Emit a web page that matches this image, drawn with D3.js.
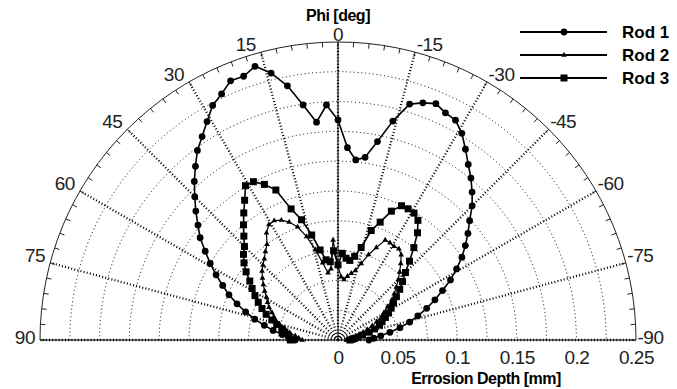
<!DOCTYPE html>
<html>
<head>
<meta charset="utf-8">
<script src="https://cdnjs.cloudflare.com/ajax/libs/d3/7.8.5/d3.min.js"></script>
<style>
  body { margin: 0; background: #fff; }
  svg { display: block; font-family: Arial, "Liberation Sans", sans-serif; }
</style>
</head>
<body>
<div id="chart"></div>
<script>
// measurement angles (deg), left = positive
const phi = [90, 87.1875, 84.375, 81.5625, 78.75, 75.9375, 73.125, 70.3125, 67.5, 64.6875,
  61.875, 59.0625, 56.25, 53.4375, 50.625, 47.8125, 45, 42.1875, 39.375, 36.5625,
  33.75, 30.9375, 28.125, 25.3125, 22.5, 19.6875, 16.875, 14.0625, 11.25, 8.4375,
  5.625, 2.8125, 0, -2.8125, -5.625, -8.4375, -11.25, -14.0625, -16.875, -19.6875,
  -22.5, -25.3125, -28.125, -30.9375, -33.75, -36.5625, -39.375, -42.1875, -45, -47.8125,
  -50.625, -53.4375, -56.25, -59.0625, -61.875, -64.6875, -67.5, -70.3125, -73.125, -75.9375,
  -78.75, -81.5625, -84.375, -87.1875, -90];

// erosion depth (mm)
const rod1 = [0.036, 0.041, 0.047, 0.055, 0.063, 0.072, 0.081, 0.090, 0.099, 0.107,
  0.116, 0.125, 0.134, 0.144, 0.152, 0.161, 0.170, 0.1795, 0.1885, 0.198,
  0.2052, 0.2137, 0.2231, 0.2284, 0.2354, 0.235, 0.2399, 0.2309, 0.2174, 0.1994,
  0.1836, 0.1974, 0.1846, 0.1615, 0.1518, 0.1549, 0.1697, 0.1893, 0.2068, 0.2113,
  0.2146, 0.2108, 0.2091, 0.2021, 0.1925, 0.1834, 0.1758, 0.1675, 0.1592, 0.149,
  0.141, 0.133, 0.125, 0.116, 0.107, 0.097, 0.088, 0.079, 0.070, 0.062,
  0.053, 0.044, 0.036, 0.030, 0.026];

const rod2 = [0.030, 0.033, 0.036, 0.041, 0.045, 0.050, 0.054, 0.057, 0.060, 0.064,
  0.067, 0.070, 0.074, 0.078, 0.082, 0.086, 0.089, 0.092, 0.096, 0.100,
  0.108, 0.1128, 0.1135, 0.1112, 0.1071, 0.1007, 0.0906, 0.078, 0.066, 0.057,
  0.060, 0.084, 0.062, 0.053, 0.051, 0.054, 0.057, 0.060, 0.067, 0.076,
  0.084, 0.0927, 0.0925, 0.0915, 0.092, 0.089, 0.083, 0.077, 0.0714, 0.066,
  0.061, 0.0562, 0.050, 0.045, 0.0416, 0.036, 0.031, 0.026, 0.022, 0.018,
  0.015, 0.012, 0.010, 0.008, 0.007];

const rod3 = [0.040, 0.041, 0.042, 0.045, 0.048, 0.053, 0.058, 0.064, 0.069, 0.074,
  0.079, 0.084, 0.089, 0.096, 0.102, 0.107, 0.111, 0.1176, 0.125, 0.1327,
  0.141, 0.1509, 0.1506, 0.1444, 0.1362, 0.1168, 0.1054, 0.0908, 0.077, 0.068,
  0.066, 0.075, 0.063, 0.0728, 0.0689, 0.0675, 0.0716, 0.080, 0.096, 0.105,
  0.117, 0.1246, 0.1248, 0.1241, 0.1207, 0.112, 0.1003, 0.0893, 0.080, 0.073,
  0.067, 0.061, 0.056, 0.052, 0.048, 0.044, 0.040, 0.037, 0.032, 0.027,
  0.021, 0.017, 0.014, 0.012, 0.010];

const seriesNames = ['Rod 1', 'Rod 2', 'Rod 3'];
const angleTicks = [90, 75, 60, 45, 30, 15, 0, -15, -30, -45, -60, -75, -90];
const depthTicks = [0, 0.05, 0.1, 0.15, 0.2, 0.25];
const gridRings = [0.025, 0.05, 0.075, 0.1, 0.125, 0.15, 0.175, 0.2, 0.225];

const W = 677, H = 389, cx = 338, cy = 340, R = 298;

const svg = d3.select('#chart').append('svg')
  .attr('width', W).attr('height', H);

const r = d3.scaleLinear().domain([0, 0.25]).range([0, R]);
const rad = a => a * Math.PI / 180;
const px = (a, v) => cx - r(v) * Math.sin(rad(a));
const py = (a, v) => cy - r(v) * Math.cos(rad(a));

const grid = svg.append('g');

// dotted rings
grid.selectAll('.ring').data(gridRings).join('path')
  .attr('d', d => { const p = d3.path(); p.arc(cx, cy, r(d), Math.PI, 2 * Math.PI); return p.toString(); })
  .attr('fill', 'none').attr('stroke', '#000').attr('stroke-width', 1)
  .attr('stroke-dasharray', '1 2.8');

// spokes
grid.selectAll('.spoke').data(angleTicks).join('line')
  .attr('x1', cx).attr('y1', cy)
  .attr('x2', d => px(d, 0.25)).attr('y2', d => py(d, 0.25))
  .attr('stroke', '#000').attr('stroke-width', 2.3)
  .attr('stroke-dasharray', '1 2.2');

// solid axes at 0 and +-90
grid.append('line').attr('x1', cx).attr('y1', cy).attr('x2', cx).attr('y2', cy - R)
  .attr('stroke', '#000').attr('stroke-width', 1);
grid.append('line').attr('x1', cx - R).attr('y1', cy).attr('x2', cx + R).attr('y2', cy)
  .attr('stroke', '#000').attr('stroke-width', 1);

// outer arc
grid.append('path')
  .attr('d', () => { const p = d3.path(); p.arc(cx, cy, R, Math.PI, 2 * Math.PI); return p.toString(); })
  .attr('fill', 'none').attr('stroke', '#222').attr('stroke-width', 1);

// minor ticks on the arc every 3 deg
grid.selectAll('.mtick').data(d3.range(-90, 91, 3)).join('line')
  .attr('x1', d => px(d, 0.25)).attr('y1', d => py(d, 0.25))
  .attr('x2', d => px(d, r.invert(R - 5))).attr('y2', d => py(d, r.invert(R - 5)))
  .attr('stroke', '#222').attr('stroke-width', 1);

// angle labels
svg.append('g').selectAll('text').data(angleTicks).join('text')
  .attr('x', d => d === 0 ? cx : (d > 0 ? px(d, 0.25) - 5 : px(d, 0.25) + 1.5))
  .attr('y', d => d === 0 ? cy - R - 1 : (Math.abs(d) === 90 ? cy + 4 : py(d, 0.25) - 1))
  .attr('text-anchor', d => d === 0 ? 'middle' : (d > 0 ? 'end' : 'start'))
  .attr('font-size', 19).attr('letter-spacing', -0.5).attr('fill', '#222')
  .text(d => d);

// radial axis labels
svg.append('g')
  .attr('transform', `translate(${cx},${cy})`)
  .call(d3.axisBottom(r).tickValues(depthTicks).tickSize(0).tickPadding(11)
    .tickFormat(d => String(+d.toFixed(2))))
  .call(a => a.select('.domain').remove())
  .selectAll('text')
  .attr('font-size', 19).attr('letter-spacing', -0.5).attr('fill', '#222')
  .attr('font-family', 'Arial, "Liberation Sans", sans-serif');

// titles
svg.append('text').attr('x', 486).attr('y', 384).attr('text-anchor', 'middle')
  .attr('font-size', 16).attr('font-weight', 'bold').attr('letter-spacing', -0.5)
  .text('Errosion Depth [mm]');
svg.append('text').attr('x', cx).attr('y', 21).attr('text-anchor', 'middle')
  .attr('font-size', 16).attr('font-weight', 'bold').attr('letter-spacing', -0.5)
  .text('Phi [deg]');

// data
const series = [
  { name: seriesNames[0], values: rod1, width: 1.6, sym: d3.symbolCircle, size: 36 },
  { name: seriesNames[1], values: rod2, width: 1.2, sym: d3.symbolTriangle, size: 14 },
  { name: seriesNames[2], values: rod3, width: 1.6, sym: d3.symbolSquare, size: 49 }
];

const line = d3.line()
  .x((d, i) => px(phi[i], d))
  .y((d, i) => py(phi[i], d));

const plot = svg.append('g');
series.forEach(s => {
  plot.append('path').datum(s.values)
    .attr('d', line).attr('fill', 'none')
    .attr('stroke', '#000').attr('stroke-width', s.width)
    .attr('stroke-linejoin', 'round');
  plot.selectAll(null).data(s.values).join('path')
    .attr('transform', (d, i) => `translate(${px(phi[i], d)},${py(phi[i], d)})`)
    .attr('d', d3.symbol().type(s.sym).size(s.size))
    .attr('fill', '#000');
});

// legend
const legend = svg.append('g');
series.forEach((s, i) => {
  const y = 32 + i * 23;
  legend.append('line').attr('x1', 520).attr('x2', 607).attr('y1', y).attr('y2', y)
    .attr('stroke', '#000').attr('stroke-width', 2);
  legend.append('path').attr('transform', `translate(564,${y})`)
    .attr('d', d3.symbol().type(s.sym).size(s.size)).attr('fill', '#000');
  legend.append('text').attr('x', 622).attr('y', y).attr('dy', '0.36em')
    .attr('font-size', 17).attr('font-weight', 'bold')
    .text(s.name);
});
</script>
</body>
</html>
